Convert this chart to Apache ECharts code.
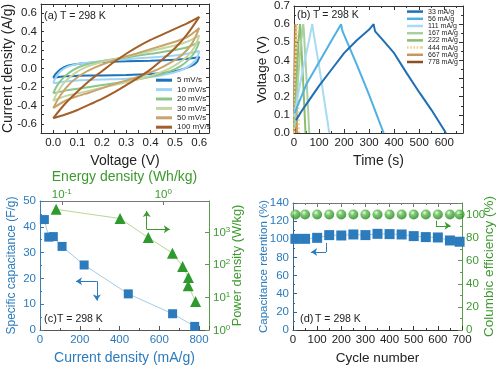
<!DOCTYPE html>
<html><head><meta charset="utf-8">
<script src="https://cdn.jsdelivr.net/npm/echarts@6/dist/echarts.min.js"></script>
<style>html,body{margin:0;padding:0;background:#fff}#c{width:500px;height:366px}</style>
</head><body><div id="c"></div>
<script>
// ---------- (a) cyclic voltammetry: [voltage V, current A/g] closed loops ----------
const cvNames = ['5 mV/s','10 mV/s','20 mV/s','30 mV/s','50 mV/s','100 mV/s'];
const cv5 = [[0,-0.10],[0.01,-0.06],[0.03,-0.01],[0.06,0.03],[0.1,0.05],[0.2,0.07],[0.3,0.08],[0.4,0.085],[0.5,0.095],[0.55,0.105],[0.6,0.125],[0.59,0.07],[0.57,0.03],[0.54,0.0],[0.5,-0.03],[0.45,-0.05],[0.4,-0.06],[0.3,-0.07],[0.2,-0.075],[0.1,-0.08],[0.05,-0.085],[0,-0.10]];
const cv10 = [[0,-0.16],[0.01,-0.10],[0.03,-0.03],[0.06,0.02],[0.1,0.05],[0.2,0.08],[0.3,0.10],[0.4,0.12],[0.5,0.14],[0.55,0.16],[0.6,0.19],[0.59,0.11],[0.57,0.05],[0.54,0.0],[0.5,-0.04],[0.45,-0.07],[0.4,-0.09],[0.3,-0.11],[0.2,-0.12],[0.1,-0.13],[0.05,-0.14],[0,-0.16]];
const cv20 = [[0,-0.27],[0.02,-0.17],[0.05,-0.08],[0.08,-0.02],[0.12,0.03],[0.2,0.08],[0.3,0.12],[0.4,0.16],[0.5,0.20],[0.55,0.23],[0.6,0.29],[0.58,0.17],[0.55,0.08],[0.52,0.02],[0.48,-0.03],[0.4,-0.09],[0.3,-0.14],[0.2,-0.18],[0.1,-0.22],[0.05,-0.24],[0,-0.27]];
const cv30 = [[0,-0.35],[0.02,-0.25],[0.05,-0.14],[0.09,-0.05],[0.13,0.01],[0.2,0.07],[0.3,0.13],[0.4,0.19],[0.5,0.25],[0.55,0.29],[0.6,0.36],[0.58,0.23],[0.55,0.13],[0.51,0.05],[0.47,-0.01],[0.4,-0.08],[0.3,-0.15],[0.2,-0.21],[0.1,-0.27],[0.05,-0.30],[0,-0.35]];
const cv50 = [[0,-0.43],[0.03,-0.29],[0.07,-0.16],[0.12,-0.06],[0.17,0.01],[0.25,0.09],[0.35,0.17],[0.45,0.25],[0.5,0.29],[0.55,0.34],[0.6,0.44],[0.57,0.27],[0.53,0.15],[0.48,0.06],[0.43,-0.01],[0.35,-0.09],[0.25,-0.17],[0.15,-0.26],[0.1,-0.30],[0.05,-0.35],[0,-0.43]];
const cv100 = [[0,-0.54],[0.05,-0.38],[0.1,-0.25],[0.15,-0.13],[0.2,-0.03],[0.25,0.07],[0.3,0.16],[0.35,0.24],[0.4,0.31],[0.45,0.37],[0.5,0.43],[0.55,0.49],[0.6,0.56],[0.55,0.37],[0.5,0.22],[0.45,0.10],[0.4,-0.01],[0.35,-0.10],[0.3,-0.18],[0.25,-0.26],[0.2,-0.33],[0.15,-0.39],[0.1,-0.45],[0.05,-0.50],[0,-0.54]];
const cvData = [cv5, cv10, cv20, cv30, cv50, cv100];

// ---------- (b) charge/discharge: [time s, voltage V] ----------
const gcdNames = ['33 mA/g','56 mA/g','111 mA/g','167 mA/g','222 mA/g','444 mA/g','667 mA/g','778 mA/g'];
const gcd33 = [[8,0.07],[30,0.12],[60,0.18],[100,0.26],[150,0.35],[200,0.44],[250,0.51],[300,0.57],[318,0.60],[320,0.585],[324,0.56],[350,0.52],[400,0.44],[450,0.33],[500,0.225],[550,0.125],[607,0]];
const gcd56 = [[3,0.11],[20,0.17],[50,0.27],[100,0.39],[150,0.51],[188,0.60],[192,0.57],[197,0.55],[250,0.38],[300,0.21],[358,0]];
const gcd111 = [[0,0.09],[20,0.24],[40,0.38],[60,0.51],[73,0.60],[76,0.57],[100,0.37],[120,0.19],[141,0]];
const gcd167 = [[3,0.03],[15,0.28],[28,0.50],[37,0.60],[39,0.57],[50,0.30],[61,0]];
const gcd222 = [[2,0.03],[10,0.28],[18,0.50],[24,0.60],[26,0.57],[36,0.30],[46,0]];
const gcd444 = [[1,0],[5,0.3],[10,0.6],[11,0.58],[15,0.3],[20,0]];
const gcd667 = [[0.5,0],[3,0.3],[6,0.6],[7,0.58],[9,0.3],[12,0]];
const gcd778 = [[0.5,0],[2,0.3],[4,0.6],[4.5,0.58],[6,0.3],[8,0]];
const gcdData = [gcd33, gcd56, gcd111, gcd167, gcd222, gcd444, gcd667, gcd778];

// ---------- (c) rate capability / Ragone ----------
const capCurrent = [22, 44, 67, 111, 222, 444, 667, 778];      // mA/g
const capValue   = [42.8, 36.0, 36.2, 32.4, 25.2, 14.0, 6.3, 1.4]; // F/g
const energyDensity = [0.088, 0.375, 0.711, 1.23, 1.55, 1.77, 1.76, 2.08]; // Wh/kg
const powerDensity  = [4900, 2560, 670, 224, 88, 40.6, 22.6, 7.5];        // W/kg

// ---------- (d) cycling ----------
const cycles     = [10, 50, 100, 150, 200, 250, 300, 350, 400, 450, 500, 550, 600, 650, 690];
const retention  = [100.5, 100.5, 101.6, 104.6, 104.2, 105.3, 104.6, 106.0, 105.7, 105.3, 103.5, 102.4, 102.0, 98.7, 97.3];
const efficiency = [100, 100, 100, 100, 100, 100, 100, 100, 100, 100, 100, 100, 100, 100, 100];

// ---------- tick labels ----------
const cvVoltTicks = [0, 0.1, 0.2, 0.3, 0.4, 0.5, 0.6];
const cvCurrTicks = [-0.6, -0.4, -0.2, 0, 0.2, 0.4, 0.6];

// ---------- styles ----------
const F = 'Liberation Sans, Arial, Helvetica, sans-serif';
const BLUE = '#2b7bbd', GREEN = '#3c9a2e', DARK = '#222';
const cvColors = ['#1f71b8', '#9fd5f3', '#8dc68a', '#c5d6a0', '#c9a46a', '#a35f28'];
const gcdColors = ['#1f6fb4', '#4fb0e3', '#a7daf3', '#a8d0a0', '#8cbc6e', '#e3d890', '#c8965a', '#8b4f22'];
const DOTTED_ICON = 'path://M0,0h1.6v2.5h-1.6zM3.2,0h1.6v2.5h-1.6zM6.4,0h1.6v2.5h-1.6zM9.6,0h1.6v2.5h-1.6zM12.8,0h1.6v2.5h-1.6zM14.4,0h1.6v2.5h-1.6z';

function ax(o) {
  const c = o.lineColor || '#333';
  const a = {
    type: o.type || 'value', gridIndex: o.g, position: o.pos, min: o.min, max: o.max,
    splitLine: { show: false },
    axisLine: { show: true, onZero: false, lineStyle: { color: c, width: 1 } },
    axisTick: { show: true, inside: true, length: o.tickLen || 4, lineStyle: { color: c } },
    minorTick: { show: !!o.minor, splitNumber: 2, length: 2, lineStyle: { color: c } },
    axisLabel: { show: o.label !== false, color: o.labelColor || DARK, fontSize: 11.5, fontFamily: F, margin: o.margin !== undefined ? o.margin : 4 },
    nameLocation: 'middle',
    nameMoveOverlap: false,
    nameTextStyle: { color: o.nameColor || DARK, fontSize: o.nameSize || 14, fontFamily: F }
  };
  if (o.interval !== undefined) a.interval = o.interval;
  if (o.type === 'log') a.logBase = 10;
  if (o.fmt) a.axisLabel.formatter = o.fmt;
  if (o.showMax !== undefined) a.axisLabel.showMaxLabel = o.showMax;
  if (o.showMin !== undefined) a.axisLabel.showMinLabel = o.showMin;
  if (o.labelValues) a.axisLabel.customValues = o.labelValues;
  if (o.rich) a.axisLabel.rich = o.rich;
  if (o.name) { a.name = o.name; a.nameGap = o.gap; if (o.rot !== undefined) a.nameRotate = o.rot; }
  return a;
}
const f1 = v => v.toFixed(1);
const pow10 = v => '{b|10}{s|' + Math.round(Math.log10(v)) + '}';
const richG = { b: { fontSize: 11.5, color: GREEN, fontFamily: F, verticalAlign: 'bottom' },
                s: { fontSize: 8, color: GREEN, fontFamily: F, verticalAlign: 'top', padding: [0, 0, 5, 0] } };

const xAxis = [
  ax({ g: 0, pos: 'bottom', min: -0.05, max: 0.64, interval: 0.05, tickLen: 3, labelValues: cvVoltTicks, fmt: f1, name: 'Voltage (V)', gap: 21 }),
  ax({ g: 0, pos: 'top', min: -0.05, max: 0.64, interval: 0.05, tickLen: 3, label: false }),
  ax({ g: 1, pos: 'bottom', min: 0, max: 675, interval: 100, minor: true, showMax: false, name: 'Time (s)', gap: 21 }),
  ax({ g: 1, pos: 'top', min: 0, max: 675, interval: 100, minor: true, label: false }),
  ax({ g: 2, pos: 'bottom', min: 0, max: 850, interval: 200, minor: true, showMax: false, labelColor: BLUE, name: 'Current density (mA/g)', nameColor: BLUE, gap: 21, lineColor: '#555' }),
  ax({ g: 2, pos: 'top', type: 'log', min: 0.061, max: 2.82, showMin: false, showMax: false, margin: 0, fmt: pow10, rich: richG, labelColor: GREEN, name: 'Energy density (Wh/kg)', nameColor: GREEN, gap: 17, lineColor: '#777' }),
  ax({ g: 3, pos: 'bottom', min: 0, max: 700, interval: 100, minor: true, name: 'Cycle number', nameSize: 13.5, gap: 21 }),
  ax({ g: 3, pos: 'top', min: 0, max: 700, interval: 100, minor: true, label: false, lineColor: '#777' })
];
const yAxis = [
  ax({ g: 0, pos: 'left', min: -0.7, max: 0.7, interval: 0.1, tickLen: 3, labelValues: cvCurrTicks, fmt: f1, name: 'Current density (A/g)', gap: 26, rot: 90 }),
  ax({ g: 0, pos: 'right', min: -0.7, max: 0.7, interval: 0.1, tickLen: 3, label: false }),
  ax({ g: 1, pos: 'left', min: 0, max: 0.7, interval: 0.1, minor: true, fmt: f1, name: 'Voltage (V)', nameSize: 13.5, gap: 25, rot: 90 }),
  ax({ g: 1, pos: 'right', min: 0, max: 0.7, interval: 0.1, minor: true, label: false }),
  ax({ g: 2, pos: 'left', min: 0, max: 50, interval: 10, minor: true, labelColor: BLUE, name: 'Specific capacitance (F/g)', nameColor: BLUE, nameSize: 12, gap: 22, rot: 90, lineColor: '#3d7db5' }),
  ax({ g: 2, pos: 'right', type: 'log', min: 1, max: 8800, showMax: false, fmt: pow10, rich: richG, labelColor: GREEN, name: 'Power density (W/kg)', nameColor: GREEN, nameSize: 12.8, gap: 22, rot: 90, lineColor: '#5a9a4a' }),
  ax({ g: 3, pos: 'left', min: 0, max: 140, interval: 20, minor: true, labelColor: BLUE, name: 'Capacitance retention (%)', nameColor: BLUE, nameSize: 11.5, gap: 23, rot: 90, lineColor: '#35648f' }),
  ax({ g: 3, pos: 'right', min: 0, max: 110, interval: 20, minor: true, showMax: false, labelColor: GREEN, name: 'Columbic efficiency (%)', nameColor: GREEN, nameSize: 13.5, gap: 20, rot: 90, lineColor: '#5a9a4a' })
];

const series = [];
cvData.forEach((d, i) => series.push({
  type: 'line', name: cvNames[i], xAxisIndex: 0, yAxisIndex: 0, data: d, symbol: 'none', smooth: 0.3,
  lineStyle: { color: cvColors[i], width: 2 }, itemStyle: { color: cvColors[i] }
}));
gcdData.forEach((d, i) => series.push({
  type: 'line', name: gcdNames[i], xAxisIndex: 2, yAxisIndex: 2, data: d, symbol: 'none',
  lineStyle: { color: gcdColors[i], width: 2, type: i === 5 ? 'dotted' : 'solid' }, itemStyle: { color: gcdColors[i] },
  z: 10 - i
}));
const arrowBase = { silent: true, animation: false, symbol: ['none', 'arrow'], symbolSize: 6, label: { show: false }, emphasis: { disabled: true } };
series.push({
  type: 'line', name: 'cap', xAxisIndex: 4, yAxisIndex: 4,
  data: capCurrent.map((x, i) => [x, capValue[i]]),
  symbol: 'rect', symbolSize: 9, lineStyle: { color: '#a6cbe6', width: 1 }, itemStyle: { color: BLUE },
  markLine: Object.assign({}, arrowBase, { lineStyle: { color: BLUE, width: 1, type: 'solid' },
    data: [[{ coord: [286, 18.9] }, { coord: [181, 18.9] }], [{ coord: [286, 18.9] }, { coord: [286, 11.4] }]] })
});
series.push({
  type: 'line', name: 'ragone', xAxisIndex: 5, yAxisIndex: 5,
  data: energyDensity.map((x, i) => [x, powerDensity[i]]),
  symbol: 'triangle', symbolSize: 11, lineStyle: { color: '#b8d890', width: 1 }, itemStyle: { color: '#2e9a2e' },
  markLine: Object.assign({}, arrowBase, { lineStyle: { color: GREEN, width: 1, type: 'solid' },
    data: [[{ coord: [0.687, 1200] }, { coord: [0.687, 4370] }], [{ coord: [0.687, 1200] }, { coord: [1.16, 1200] }]] })
});
series.push({
  type: 'line', name: 'retention', xAxisIndex: 6, yAxisIndex: 6,
  data: cycles.map((x, i) => [x, retention[i]]),
  symbol: 'rect', symbolSize: 10, lineStyle: { color: '#a6cbe6', width: 1 }, itemStyle: { color: BLUE },
  markLine: Object.assign({}, arrowBase, { lineStyle: { color: BLUE, width: 1, type: 'solid' },
    data: [[{ coord: [137, 96], symbol: 'none' }, { coord: [137, 86], symbol: 'none' }], [{ coord: [137, 86] }, { coord: [75, 86] }]] })
});
series.push({
  type: 'scatter', name: 'efficiency', xAxisIndex: 6, yAxisIndex: 7,
  data: cycles.map((x, i) => [x, efficiency[i]]),
  symbol: 'circle', symbolSize: 10,
  itemStyle: { color: { type: 'radial', x: 0.38, y: 0.32, r: 0.7, colorStops: [
    { offset: 0, color: '#eaf8e4' }, { offset: 0.35, color: '#5cbf4a' }, { offset: 1, color: '#1f7d1f' }] } },
  markLine: Object.assign({}, arrowBase, { lineStyle: { color: GREEN, width: 1, type: 'solid' },
    data: [[{ coord: [592, 94.6], symbol: 'none' }, { coord: [592, 90.2], symbol: 'none' }], [{ coord: [592, 90.2] }, { coord: [653, 90.2] }]] })
});

function txt(t, x, y, size) { return { type: 'text', left: x, top: y, silent: true, style: { text: t, font: size + 'px ' + F, fill: DARK } }; }

const option = {
  animation: false,
  backgroundColor: '#fff',
  grid: [
    { left: 41, top: 4, width: 168, height: 129 },
    { left: 294, top: 5, width: 169, height: 128 },
    { left: 40, top: 201, width: 169, height: 130 },
    { left: 293, top: 203, width: 169, height: 128 }
  ],
  xAxis, yAxis, series,
  legend: [
    { data: cvNames, orient: 'vertical', left: 156, top: 75.5, icon: 'rect', itemWidth: 16, itemHeight: 3, itemGap: 0, padding: 0,
      selectedMode: false, textStyle: { fontSize: 8, lineHeight: 9.4, fontFamily: F, color: DARK } },
    { data: gcdNames.map(n => n === '444 mA/g' ? { name: n, icon: DOTTED_ICON } : n), orient: 'vertical', left: 407, top: 8,
      icon: 'rect', itemWidth: 16, itemHeight: 2.5, itemGap: 0, padding: 0,
      selectedMode: false, textStyle: { fontSize: 7, lineHeight: 7.2, fontFamily: F, color: DARK } }
  ],
  graphic: [
    txt('(a)', 44, 10, 11), txt('T = 298 K', 60, 10.5, 10.5),
    txt('(b)', 297, 9, 11), txt('T = 298 K', 313, 9.5, 10.5),
    txt('(c)', 44, 313.5, 11), txt('T = 298 K', 57, 314, 10.5),
    txt('(d)', 300, 313.5, 11), txt('T = 298 K', 315, 314, 10.5)
  ]
};
const chart = echarts.init(document.getElementById('c'), null, { renderer: 'canvas', width: 500, height: 366 });
chart.setOption(option);
</script></body></html>
